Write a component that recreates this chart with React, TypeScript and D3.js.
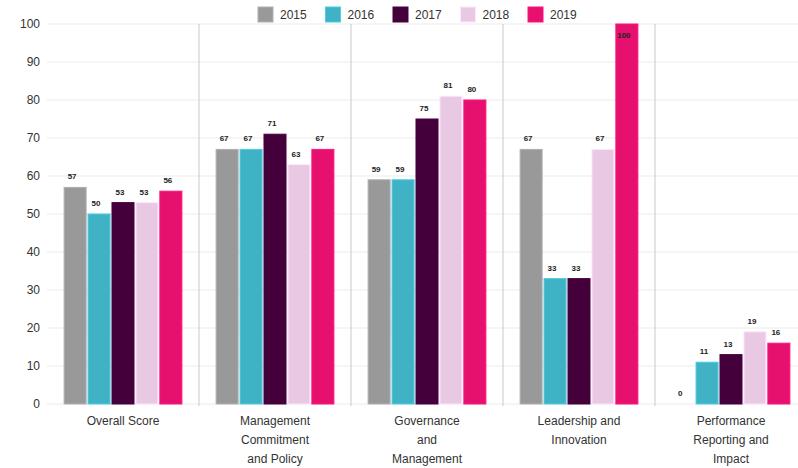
import React from 'react';
import * as d3 from 'd3';

const categories = [
  ['Overall Score'],
  ['Management', 'Commitment', 'and Policy'],
  ['Governance', 'and', 'Management'],
  ['Leadership and', 'Innovation'],
  ['Performance', 'Reporting and', 'Impact'],
];
const years = ['2015', '2016', '2017', '2018', '2019'];
const colors = ['#999999', '#3fb3c5', '#43003a', '#e9c8e4', '#e6106e'];

const scores2015 = [57, 67, 59, 67, 0];
const scores2016 = [50, 67, 59, 33, 11];
const scores2017 = [53, 71, 75, 33, 13];
const scores2018 = [53, 63, 81, 67, 19];
const scores2019 = [56, 67, 80, 100, 16];
const series = [scores2015, scores2016, scores2017, scores2018, scores2019];

const yTicks = [0, 10, 20, 30, 40, 50, 60, 70, 80, 90, 100];

export default function App() {
  const width = 798;
  const height = 468;
  const left = 47;
  const right = 807;
  const top = 24;
  const bottom = 404;

  const catKeys = categories.map((c) => c.join(' '));
  const x0 = d3.scaleBand().domain(catKeys).range([left, right]).paddingInner(0.2).paddingOuter(0.1);
  const x1 = d3.scaleBand().domain(years).range([0, x0.bandwidth()]).padding(0.08);
  const y = d3.scaleLinear().domain([0, 100]).range([bottom, top]);

  const step = x0.step();

  return (
    <svg
      width={width}
      height={height}
      style={{ position: 'absolute', left: 0, top: 0, fontFamily: 'Liberation Sans, Arial, sans-serif' }}
    >
      <rect width={width} height={height} fill="#ffffff" />
      {/* grid */}
      {yTicks.map((t) => (
        <g key={t}>
          <line x1={left} x2={right} y1={y(t)} y2={y(t)} stroke="#ebebeb" strokeWidth={1} />
          <text x={40} y={y(t)} dy="0.35em" textAnchor="end" fontSize={12} fill="#333">
            {t}
          </text>
        </g>
      ))}
      {/* category separators */}
      {catKeys.slice(1).map((k, i) => (
        <line
          key={k}
          x1={left + step * (i + 1)}
          x2={left + step * (i + 1)}
          y1={top}
          y2={bottom + 2}
          stroke="#c8c8c8"
          strokeWidth={1}
        />
      ))}
      {/* bars */}
      {catKeys.map((k, ci) => (
        <g key={k} transform={`translate(${x0(k)},0)`}>
          {years.map((yr, si) => {
            const v = series[si][ci];
            const bx = x1(yr)!;
            const by = y(v);
            return (
              <g key={yr}>
                {v > 0 && (
                  <rect
                    x={bx}
                    y={by}
                    width={x1.bandwidth()}
                    height={bottom - by}
                    fill={colors[si]}
                    stroke={d3.color(colors[si])!.brighter(0.4).formatHex()}
                    strokeWidth={1}
                  />
                )}
                <text
                  x={bx + x1.bandwidth() / 2 - 3}
                  y={Math.max(by - 8, 38)}
                  textAnchor="middle"
                  fontSize={8}
                  fontWeight="bold"
                  fill="#222"
                >
                  {v}
                </text>
              </g>
            );
          })}
          {categories[ci].map((line, li) => (
            <text
              key={li}
              x={x0.bandwidth() / 2}
              y={425 + li * 19}
              textAnchor="middle"
              fontSize={12}
              fill="#333"
            >
              {line}
            </text>
          ))}
        </g>
      ))}
      {/* legend */}
      {years.map((yr, i) => (
        <g key={yr} transform={`translate(${258 + i * 67.5},7)`}>
          <rect width={15} height={15} fill={colors[i]} stroke={d3.color(colors[i])!.brighter(0.4).formatHex()} />
          <text x={22} y={12} fontSize={12} fill="#333">
            {yr}
          </text>
        </g>
      ))}
    </svg>
  );
}
